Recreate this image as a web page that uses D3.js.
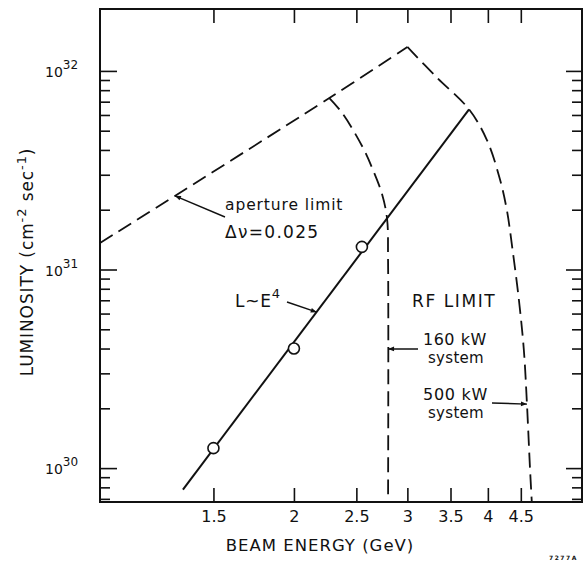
<!DOCTYPE html>
<html lang="en">
<head>
<meta charset="UTF-8">
<title>Luminosity vs Beam Energy</title>
<script src="https://cdn.jsdelivr.net/npm/d3@7"></script>
<style>
  body { margin: 0; background: #fff; }
  text { font-family: "DejaVu Sans", sans-serif; fill: #111; }
</style>
</head>
<body>
<script>
// values: E in GeV, L in cm^-2 s^-1
var xTicks = [1.5, 2, 2.5, 3, 3.5, 4, 4.5];
var xTickLabels = ["1.5", "2", "2.5", "3", "3.5", "4", "4.5"];
var yMajor = [1e30, 1e31, 1e32];
var yExp = ["30", "31", "32"];
var yMinor = [7e29, 8e29, 9e29,
              2e30, 3e30, 4e30, 5e30, 6e30, 7e30, 8e30, 9e30,
              2e31, 3e31, 4e31, 5e31, 6e31, 7e31, 8e31, 9e31];

// aperture limit (dashed)
var apertureE = [1.0, 2.27, 3.0];
var apertureL = [1.36e31, 7.3e31, 1.32e32];
// RF limit, 500 kW system (dashed)
var rf500E = [3.0, 3.33, 3.74, 3.985, 4.17, 4.28, 4.37, 4.47, 4.55, 4.60, 4.65, 4.68];
var rf500L = [1.32e32, 9.3e31, 6.4e31, 4.5e31, 2.9e31, 2.0e31, 1.25e31, 7.0e30, 3.9e30, 2.1e30, 1.0e30, 6.75e29];
// RF limit, 160 kW system (dashed)
var rf160E = [2.27, 2.38, 2.56, 2.65, 2.74, 2.79, 2.80, 2.80];
var rf160L = [7.3e31, 6.1e31, 4.1e31, 3.2e31, 2.4e31, 1.8e31, 1.1e31, 6.75e29];
// L ~ E^4 (solid)
var scalingE = [1.345, 3.74];
var scalingL = [7.8e29, 6.4e31];
// measured points (open circles)
var measE = [1.5, 2.0, 2.55];
var measL = [1.26e30, 4.0e30, 1.3e31];

var width = 584, height = 568;
var pLeft = 100, pRight = 582, pTop = 9, pBottom = 502;

var svg = d3.select("body").append("svg")
    .attr("width", width)
    .attr("height", height);

var x = d3.scaleLog().domain([1.0, 5.6]).range([pLeft, pRight]);
var y = d3.scaleLog().domain([6.75e29, 2.05e32]).range([pBottom, pTop]);

function pts(es, ls) {
  return es.map(function(e, i) { return [e, ls[i]]; });
}

var line = d3.line()
    .x(function(d) { return x(d[0]); })
    .y(function(d) { return y(d[1]); })
    .curve(d3.curveCatmullRom.alpha(0.5));

// frame
svg.append("rect")
    .attr("x", pLeft).attr("y", pTop)
    .attr("width", pRight - pLeft).attr("height", pBottom - pTop)
    .attr("fill", "none").attr("stroke", "#111").attr("stroke-width", 2);

// bottom axis (ticks inward)
var xb = svg.append("g")
    .attr("transform", "translate(0," + pBottom + ")")
    .call(d3.axisBottom(x).tickValues(xTicks).tickSize(-14).tickPadding(9)
      .tickFormat(function(d, i) { return xTickLabels[i]; }));
xb.select(".domain").remove();
xb.selectAll("line").attr("stroke", "#111").attr("stroke-width", 1.6);
xb.selectAll("text").attr("font-size", 16).attr("font-family", "DejaVu Sans").attr("fill", "#111");

// top axis
var xt = svg.append("g")
    .attr("transform", "translate(0," + pTop + ")")
    .call(d3.axisTop(x).tickValues(xTicks).tickSize(-14).tickFormat(""));
xt.select(".domain").remove();
xt.selectAll("line").attr("stroke", "#111").attr("stroke-width", 1.6);

// left / right axes: majors and minors
function yAxes(g, axisFn, vals, size) {
  var a = g.call(axisFn(y).tickValues(vals).tickSize(-size).tickFormat(""));
  a.select(".domain").remove();
  a.selectAll("line").attr("stroke", "#111").attr("stroke-width", 1.6);
  return a;
}
yAxes(svg.append("g").attr("transform", "translate(" + pLeft + ",0)"), d3.axisLeft, yMajor, 17);
yAxes(svg.append("g").attr("transform", "translate(" + pLeft + ",0)"), d3.axisLeft, yMinor, 10);
yAxes(svg.append("g").attr("transform", "translate(" + pRight + ",0)"), d3.axisRight, yMajor, 16);
yAxes(svg.append("g").attr("transform", "translate(" + pRight + ",0)"), d3.axisRight, yMinor, 10);

// 10^n labels
yMajor.forEach(function(v, i) {
  var t = svg.append("text")
      .attr("x", 45).attr("y", y(v) + 6)
      .attr("font-size", 14);
  t.append("tspan").text("10");
  t.append("tspan").attr("dy", -8).attr("font-size", 12).text(yExp[i]);
});

// curves
function dashed(es, ls) {
  svg.append("path")
      .attr("d", line(pts(es, ls)))
      .attr("fill", "none").attr("stroke", "#111")
      .attr("stroke-width", 1.8).attr("stroke-dasharray", "15,7");
}
dashed(apertureE, apertureL);
dashed(rf500E, rf500L);
dashed(rf160E, rf160L);

svg.append("path")
    .attr("d", d3.line().x(function(d) { return x(d[0]); }).y(function(d) { return y(d[1]); })(pts(scalingE, scalingL)))
    .attr("fill", "none").attr("stroke", "#111").attr("stroke-width", 2);

svg.selectAll("circle.meas")
    .data(pts(measE, measL))
    .enter().append("circle")
    .attr("class", "meas")
    .attr("cx", function(d) { return x(d[0]); })
    .attr("cy", function(d) { return y(d[1]); })
    .attr("r", 5.5)
    .attr("fill", "#fff").attr("stroke", "#111").attr("stroke-width", 1.6);

// arrows
svg.append("defs").append("marker")
    .attr("id", "ah").attr("viewBox", "0 0 10 10")
    .attr("refX", 10).attr("refY", 5)
    .attr("markerWidth", 9).attr("markerHeight", 6)
    .attr("orient", "auto").attr("markerUnits", "userSpaceOnUse")
    .append("path").attr("d", "M0,1 L10,5 L0,9 Z").attr("fill", "#111");

function arrow(x0, y0, e, l) {
  svg.append("line")
      .attr("x1", x0).attr("y1", y0)
      .attr("x2", x(e)).attr("y2", y(l))
      .attr("stroke", "#111").attr("stroke-width", 1.4)
      .attr("marker-end", "url(#ah)");
}
arrow(225, 217, 1.307, 2.35e31);
arrow(287, 302, 2.17, 6.1e30);
arrow(418, 349, 2.80, 3.98e30);
arrow(492, 403, 4.60, 2.1e30);

// annotation text
function label(tx, ty, s, size, ls) {
  return svg.append("text").attr("x", tx).attr("y", ty)
      .attr("font-size", size).attr("letter-spacing", ls || 0).text(s);
}
label(225, 210, "aperture limit", 15.5, 0.9);
label(225, 238, "\u0394\u03bd=0.025", 17, 1.3);
var le = label(235, 307, "L~E", 17, 0.8);
le.append("tspan").attr("dy", -9).attr("font-size", 13).text("4");
label(412, 307, "RF LIMIT", 17, 1.6);
label(423, 345, "160 kW", 16, 0.5);
label(428, 363, "system", 15, 0.3);
label(423, 400, "500 kW", 16, 0.7);
label(428, 418, "system", 15, 0.3);

// axis titles
svg.append("text")
    .attr("x", 320).attr("y", 551)
    .attr("text-anchor", "middle")
    .attr("font-size", 16.5).attr("letter-spacing", 1)
    .text("BEAM ENERGY (GeV)");

var yt = svg.append("text")
    .attr("transform", "translate(33,262) rotate(-90)")
    .attr("text-anchor", "middle")
    .attr("font-size", 17).attr("letter-spacing", 0.9);
yt.append("tspan").text("LUMINOSITY (cm");
yt.append("tspan").attr("dy", -7).attr("font-size", 13).text("-2");
yt.append("tspan").attr("dy", 7).text(" sec");
yt.append("tspan").attr("dy", -7).attr("font-size", 13).text("-1");
yt.append("tspan").attr("dy", 7).text(")");

svg.append("text")
    .attr("x", 549).attr("y", 560)
    .attr("font-size", 6).attr("font-weight", "bold").attr("letter-spacing", 1.5)
    .text("7277A");
</script>
</body>
</html>
